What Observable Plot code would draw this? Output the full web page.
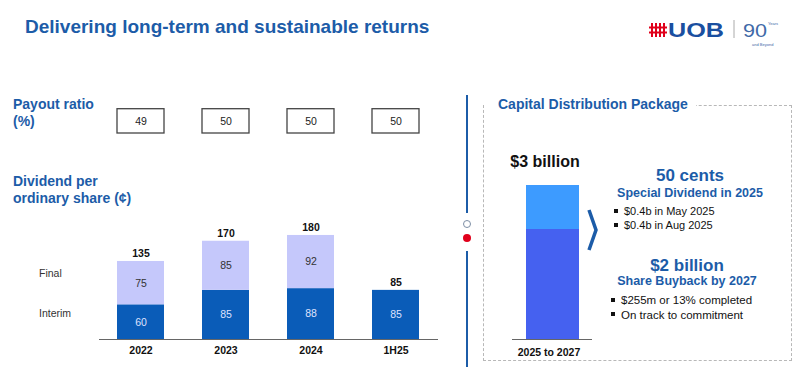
<!DOCTYPE html>
<html><head><meta charset="utf-8">
<script src="https://cdn.jsdelivr.net/npm/d3@7"></script>
<script src="https://cdn.jsdelivr.net/npm/@observablehq/plot@0.6"></script>
<style>
html,body{margin:0;padding:0;background:#fff;}
#root{position:relative;width:800px;height:377px;overflow:hidden;font-family:"Liberation Sans",Arial,sans-serif;background:#fff;}
.abs{position:absolute;white-space:nowrap;}
.blue{color:#1c5ca8;font-weight:bold;}
.bul{display:inline-block;width:4px;height:4px;background:#111;margin-right:6px;vertical-align:middle;position:relative;top:-1px;}
</style></head>
<body><div id="root"></div>
<script>
// ---- data ----
const categories = ["2022", "2023", "2024", "1H25"];
const payoutRatio = [49, 50, 50, 50];
const interimDividend = [60, 85, 88, 85];
const finalDividend = [75, 85, 92, null];
const totalDividend = [135, 170, 180, 85];
const seriesNames = ["Interim", "Final"];
const rowLabels = ["Final", "Interim"];

const packagePeriod = ["2025 to 2027"];
const specialDividendB = [0.8];   // $0.4b May + $0.4b Aug 2025
const shareBuybackB = [2.0];
const packageLabel = ["$3 billion"];

const root = document.getElementById("root");
function addDiv(html, css){const d=document.createElement("div");d.className="abs";d.innerHTML=html;Object.assign(d.style,css);root.appendChild(d);return d;}

// ---- header ----
addDiv("Delivering long-term and sustainable returns",{left:"25px",top:"16.5px",fontSize:"19px",lineHeight:"19px",fontWeight:"bold",color:"#1c5ca8"});
// logo
const logo = document.createElementNS("http://www.w3.org/2000/svg","svg");
logo.setAttribute("width","150");logo.setAttribute("height","40");
logo.style.position="absolute";logo.style.left="645px";logo.style.top="14px";
logo.innerHTML = `
<g stroke="#e0001b" stroke-width="2">
<line x1="7" y1="9" x2="7" y2="23"/><line x1="11" y1="9" x2="11" y2="23"/><line x1="15" y1="9" x2="15" y2="23"/><line x1="19" y1="9" x2="19" y2="23"/>
<line x1="4" y1="13.5" x2="22" y2="13.5"/><line x1="4" y1="18.5" x2="22" y2="18.5"/></g>
<text x="23" y="23" font-family="Liberation Sans, Arial" font-weight="bold" font-size="20" textLength="56" lengthAdjust="spacingAndGlyphs" fill="#1a4fa0">UOB</text>
<line x1="89" y1="6" x2="89" y2="24" stroke="#aaa" stroke-width="1"/>
<text x="98" y="23" font-family="Liberation Sans, Arial" font-size="19" textLength="24" lengthAdjust="spacingAndGlyphs" fill="#3f6aa8">90</text>
<text x="123" y="11" font-family="Liberation Sans, Arial" font-size="4" fill="#3f6aa8">Years</text>
<text x="107" y="32" font-family="Liberation Sans, Arial" font-size="4" fill="#3f6aa8">and Beyond</text>`;
root.appendChild(logo);

// ---- left labels ----
addDiv("Payout ratio<br>(%)",{left:"13px",top:"96px",fontSize:"14px",lineHeight:"17px"}).classList.add("blue");
addDiv("Dividend per<br>ordinary share (¢)",{left:"13px",top:"173px",fontSize:"14px",lineHeight:"17px"}).classList.add("blue");
addDiv(rowLabels[0],{left:"39px",top:"268px",fontSize:"10.5px",lineHeight:"10.5px",color:"#333"});
addDiv(rowLabels[1],{left:"39px",top:"308px",fontSize:"10.5px",lineHeight:"10.5px",color:"#333"});

// shared x scale
const xScale = {domain: categories, paddingInner: 0.447, paddingOuter: 0.2176};
const plotW = 460, mL = 99, mR = 22;

// payout boxes
const payoutRows = categories.map((c,i)=>({cat:c, v:payoutRatio[i]}));
const payoutPlot = Plot.plot({
  width: plotW, height: 40, marginLeft: mL, marginRight: mR, marginTop: 8.7, marginBottom: 7,
  x: {...xScale, axis: null},
  style: {background: "transparent", fontFamily: "Liberation Sans, Arial"},
  marks: [
    Plot.cell(payoutRows, {x: "cat", fill: "white", stroke: "#444", strokeWidth: 1.3}),
    Plot.text(payoutRows, {x: "cat", text: d => String(d.v), fontSize: 10.5, fill: "#222"})
  ]
});
Object.assign(payoutPlot.style,{position:"absolute",left:"0px",top:"100px"});
root.appendChild(payoutPlot);

// stacked bars
const rows = [];
categories.forEach((c,i)=>{
  rows.push({cat:c, series:seriesNames[0], value:interimDividend[i]});
  if (finalDividend[i] != null) rows.push({cat:c, series:seriesNames[1], value:finalDividend[i]});
});
const totals = categories.map((c,i)=>({cat:c, total: totalDividend[i]}));
const mainPlot = Plot.plot({
  width: plotW, height: 150, marginLeft: mL, marginRight: mR, marginTop: 8.4, marginBottom: 26,
  x: {...xScale, label: null},
  y: {domain: [0, 200], axis: null},
  color: {domain: seriesNames, range: ["#0a5cb8", "#c5c8fb"]},
  style: {background: "transparent", fontFamily: "Liberation Sans, Arial", color: "#111"},
  marks: [
    Plot.barY(rows, {x: "cat", y: "value", fill: "series"}),
    Plot.text(rows, Plot.stackY({x: "cat", y: "value", z: "series", text: d => String(d.value), fontSize: 10.5,
      fill: d => d.series === "Interim" ? "#dfe2ff" : "#333"})),
    Plot.text(totals, {x: "cat", y: "total", text: d => String(d.total), dy: -8, fontSize: 10.5, fontWeight: "bold", fill: "#111"}),
    Plot.ruleY([0], {stroke: "#666", strokeWidth: 1}),
    Plot.axisX({tickSize: 0, tickPadding: 7, fontSize: 10.5, fontWeight: "bold", label: null})
  ]
});
Object.assign(mainPlot.style,{position:"absolute",left:"0px",top:"215px"});
root.appendChild(mainPlot);

// ---- divider ----
const div = document.createElementNS("http://www.w3.org/2000/svg","svg");
div.setAttribute("width","20");div.setAttribute("height","377");
div.style.position="absolute";div.style.left="457px";div.style.top="0px";
div.innerHTML = `<line x1="10" y1="95" x2="10" y2="213" stroke="#1c5ca8" stroke-width="2"/>
<circle cx="10" cy="224" r="3.5" fill="white" stroke="#7d8ea5" stroke-width="1"/>
<circle cx="10" cy="238" r="4" fill="#e0001b"/>
<line x1="10" y1="251" x2="10" y2="367" stroke="#1c5ca8" stroke-width="2"/>`;
root.appendChild(div);

// ---- right panel ----
addDiv("",{left:"483px",top:"105px",width:"309px",height:"256px",border:"1px dashed #b8b8b8",boxSizing:"border-box"});
addDiv("Capital Distribution Package",{left:"484px",top:"97px",fontSize:"14px",lineHeight:"14px",paddingLeft:"14px",paddingRight:"8px",background:"#fff"}).classList.add("blue");

const pkgRows = [
  {period: packagePeriod[0], part: "Share Buyback", value: shareBuybackB[0]},
  {period: packagePeriod[0], part: "Special Dividend", value: specialDividendB[0]}
];
const pkgTotal = shareBuybackB[0] + specialDividendB[0];
const pkgPlot = Plot.plot({
  width: 110, height: 215, marginLeft: 12, marginRight: 18, marginTop: 35, marginBottom: 26,
  x: {domain: packagePeriod, paddingInner: 0, paddingOuter: 0.2547, label: null},
  y: {domain: [0, pkgTotal], axis: null},
  color: {domain: ["Share Buyback", "Special Dividend"], range: ["#4561f0", "#3d9bff"]},
  style: {background: "transparent", fontFamily: "Liberation Sans, Arial", color: "#111"},
  marks: [
    Plot.barY(pkgRows, {x: "period", y: "value", fill: "part"}),
    Plot.ruleY([0], {stroke: "#666", strokeWidth: 1}),
    Plot.text(packageLabel, {x: () => packagePeriod[0], y: () => pkgTotal, text: d => d, dy: -24, dx: -8, fontSize: 16, fontWeight: "bold", fill: "#111"}),
    Plot.axisX({tickSize: 0, tickPadding: 9, dx: -4, fontSize: 10.5, fontWeight: "bold", label: null})
  ]
});
Object.assign(pkgPlot.style,{position:"absolute",left:"500px",top:"150px"});
root.appendChild(pkgPlot);

// chevron
const chev = document.createElementNS("http://www.w3.org/2000/svg","svg");
chev.setAttribute("width","20");chev.setAttribute("height","50");
chev.style.position="absolute";chev.style.left="583px";chev.style.top="205px";
chev.innerHTML = `<polyline points="6,5 13,25 6,45" fill="none" stroke="#1c5ca8" stroke-width="3.5"/>`;
root.appendChild(chev);

addDiv("50 cents",{left:"580px",width:"220px",textAlign:"center",top:"167.3px",fontSize:"17px",lineHeight:"17px"}).classList.add("blue");
addDiv("Special Dividend in 2025",{left:"580px",width:"220px",textAlign:"center",top:"186.7px",fontSize:"12.5px",lineHeight:"12.5px"}).classList.add("blue");
addDiv('<span class="bul"></span>$0.4b in May 2025<br><span class="bul"></span>$0.4b in Aug 2025',{left:"614px",top:"205px",fontSize:"11px",lineHeight:"13.5px",color:"#111"});
addDiv("$2 billion",{left:"577px",width:"220px",textAlign:"center",top:"256.6px",fontSize:"17px",lineHeight:"17px"}).classList.add("blue");
addDiv("Share Buyback by 2027",{left:"577px",width:"220px",textAlign:"center",top:"275.1px",fontSize:"12.5px",lineHeight:"12.5px"}).classList.add("blue");
addDiv('<span class="bul"></span>$255m or 13% completed<br><span class="bul"></span>On track to commitment',{left:"611px",top:"293px",fontSize:"11.5px",lineHeight:"14.5px",color:"#111"});
</script>
</body></html>
